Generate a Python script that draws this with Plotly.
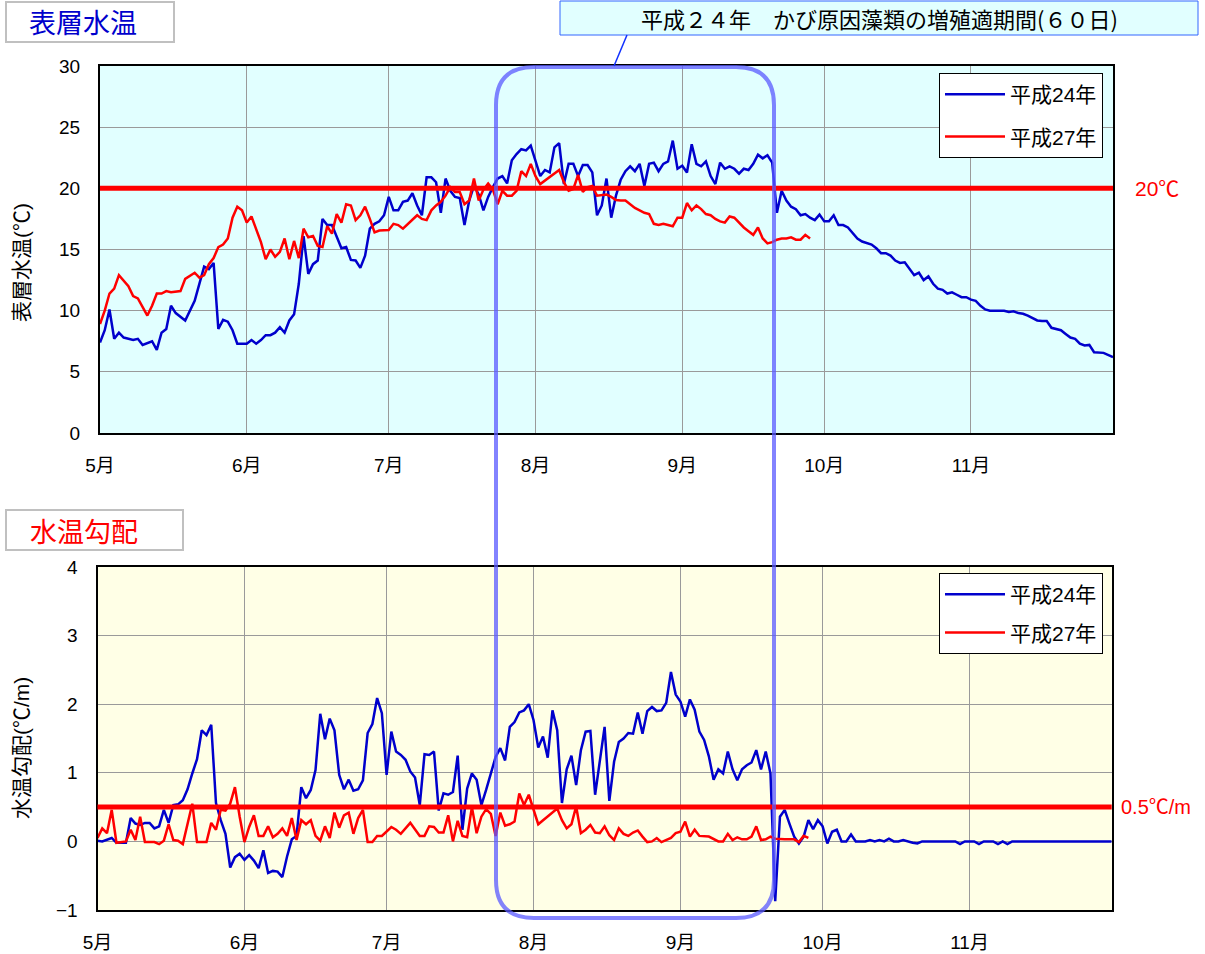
import plotly.graph_objects as go
from datetime import date, timedelta

# ---------------- data (days counted from 1 May) ----------------
month_ticks = ["2012-05-01", "2012-06-01", "2012-07-01", "2012-08-01",
               "2012-09-01", "2012-10-01", "2012-11-01"]
month_labels = ["5月", "6月", "7月", "8月", "9月", "10月", "11月"]

series_names = ["平成24年", "平成27年"]

# surface water temperature, H24
h24_temp_days = ([0, 1, 2, 3, 4, 5, 7, 8, 9, 11, 12, 13, 14, 15, 16, 18, 20, 21, 22, 23, 24,
                  25, 26, 27, 28, 29, 31, 32, 33, 34, 35, 36, 37, 38, 39, 40, 41, 42, 43, 44,
                  45, 46, 47, 48, 49, 51, 52, 53, 54, 55, 56, 57, 58, 59, 60, 61, 62, 63, 64]
                 + list(range(65, 213)) + [214])
h24_temp = [7.4, 8.4, 10.1, 7.7, 8.2, 7.8, 7.6, 7.7, 7.2, 7.5, 6.8, 8.2, 8.5, 10.4, 9.8, 9.2, 10.8,
            12.3, 13.6, 13.4, 13.9, 8.5, 9.25, 9.1, 8.4, 7.3, 7.3, 7.6, 7.3, 7.6, 8.0, 8.0, 8.2,
            8.65, 8.2, 9.2, 9.7, 12.2, 16.1, 13.0, 13.8, 14.1, 17.5, 17.0, 17.0, 15.1, 15.2,
            14.15, 14.1, 13.5, 14.5, 16.7, 17.1, 17.3, 17.8, 19.3, 18.2, 18.2, 18.9,
            # 65 ..
            19.0, 19.6, 18.6, 17.8, 20.9, 20.9, 20.5, 18.0, 20.8, 19.8, 19.3, 19.2, 17.0, 19.0,
            20.2, 19.5, 18.2, 19.3, 20.1, 20.8, 21.0, 20.4, 22.3, 22.8, 23.2, 23.1, 23.5, 22.3,
            21.0, 21.5, 21.3, 23.35, 23.7, 20.35, 22.0, 22.0, 21.0, 21.9, 21.9, 21.3, 17.8,
            18.6, 20.8, 17.6, 19.4, 20.7, 21.4, 21.8, 21.4, 22.0, 20.2, 22.0, 22.1, 21.4, 22.0,
            22.2, 23.9, 21.6, 21.85, 21.3, 23.6, 22.0, 21.8, 22.2, 21.0, 20.35, 22.1, 21.6,
            21.8, 21.6, 21.2, 21.6, 21.5, 22.0, 22.75, 22.45, 22.7, 22.1, 18.0, 19.8, 19.0,
            18.5, 18.3, 17.8, 17.9, 17.6, 17.4, 17.85, 17.3, 17.3, 17.8, 17.0, 17.0, 16.8,
            16.35, 15.9, 15.65, 15.5, 15.4, 15.1, 14.7, 14.7, 14.5, 14.1, 13.9, 13.95, 13.4,
            12.9, 13.1, 12.5, 12.8, 12.2, 11.8, 11.7, 11.4, 11.5, 11.3, 11.1, 11.1, 10.9,
            10.8, 10.4, 10.1, 10.0, 10.0, 10.0, 10.0, 9.9, 9.95, 9.8, 9.75, 9.6, 9.4, 9.2,
            9.15, 9.15, 8.6, 8.5, 8.4, 8.1, 7.8, 7.7, 7.3, 7.15, 7.2, 6.6, 6.6, 6.55,
            6.2]

# surface water temperature, H27
h27_temp_days = ([0, 1, 2, 3, 4, 6, 7, 8, 10, 11, 12, 13, 14, 15, 17, 18]
                 + list(range(20, 60)) + [61, 62, 63, 64] + list(range(66, 94))
                 + list(range(97, 151)))
h27_temp = [8.9, 10.0, 11.4, 11.8, 12.9, 12.0, 11.2, 11.0, 9.6, 10.4, 11.4, 11.4, 11.6, 11.5,
            11.6, 12.6,
            # 20 ..
            13.1, 12.7, 12.9, 13.8, 14.3, 15.2, 15.4, 15.9, 17.6, 18.5, 18.2, 17.2, 17.7, 16.7,
            15.6, 14.2, 15.0, 14.4, 14.8, 15.9, 14.2, 15.7, 14.3, 16.7, 16.0, 16.1, 15.3, 15.2,
            16.9, 16.3, 17.9, 17.2, 18.7, 18.6, 17.4, 17.8, 18.5, 17.5, 16.4, 16.55,
            16.6, 17.1, 17.0, 16.7,
            # 66 ..
            17.4, 17.8, 17.5, 17.4, 18.2, 18.6, 18.9, 19.4, 20.1, 19.7, 19.7, 18.7, 19.0, 20.8,
            19.0, 19.9, 20.4, 19.9, 18.7, 19.8, 19.4, 19.4, 19.8, 21.4, 21.0, 22.0, 21.0, 20.35,
            # 97 ..
            21.5, 20.5, 19.8, 19.95, 21.1, 19.7, 20.1, 20.2, 19.4, 19.45, 19.5, 19.3, 19.05,
            19.0, 19.0, 18.7, 18.4, 18.2, 18.0, 17.9, 17.1, 17.0, 17.1, 17.0, 16.9, 17.6, 17.6,
            18.8, 18.2, 18.6, 18.3, 17.9, 17.8, 17.5, 17.3, 17.2, 17.7, 17.6, 17.2, 16.8, 16.5,
            16.2, 16.8, 15.9, 15.5, 15.6, 15.8, 15.9, 15.9, 16.0, 15.8, 15.8, 16.2, 15.9]

# water temperature gradient, H24
h24_grad_days = ([0, 1, 3, 4] + list(range(6, 161)) + list(range(162, 171))
                 + [172, 173, 174, 181, 182, 183, 185, 186, 187, 189, 190, 191, 192, 193, 214])
h24_grad = [0.01, 0.0, 0.05, -0.02,
            # 6 ..
            -0.02, 0.34, 0.26, 0.24, 0.27, 0.27, 0.19, 0.22, 0.46, 0.27, 0.53, 0.54, 0.6, 0.76,
            0.99, 1.2, 1.62, 1.55, 1.7, 0.56, 0.31, 0.11, -0.38, -0.23, -0.18, -0.27, -0.2,
            -0.28, -0.39, -0.13, -0.46, -0.43, -0.44, -0.52, -0.22, 0.03, 0.08, 0.79, 0.63,
            0.75, 1.04, 1.86, 1.49, 1.79, 1.62, 0.97, 0.76, 0.9, 0.74, 0.76, 0.89, 1.58, 1.71,
            2.09, 1.87, 0.97, 1.6, 1.31, 1.26, 1.19, 1.02, 0.93, 0.53, 1.27, 1.26, 1.31, 0.45,
            0.7, 0.68, 0.72, 1.25, 0.17, 0.77, 0.99, 0.9, 0.53, 0.75, 0.99, 1.23, 1.36, 1.18,
            1.67, 1.74, 1.88, 1.91, 2.0, 1.77, 1.37, 1.53, 1.22, 1.91, 1.62, 0.56, 1.05, 1.25,
            0.82, 1.33, 1.6, 1.61, 0.68, 1.16, 1.67, 0.59, 1.16, 1.45, 1.5, 1.58, 1.57, 1.88,
            1.57, 1.9, 1.96, 1.9, 1.91, 2.02, 2.47, 2.14, 2.04, 1.82, 2.07, 1.92, 1.6, 1.48,
            1.24, 0.9, 1.05, 0.99, 1.31, 1.05, 0.89, 1.05, 1.11, 1.15, 1.33, 1.05, 1.31, 0.99,
            -0.87, 0.36, 0.46, 0.26, 0.07, -0.03, 0.07, 0.31, 0.18, 0.31, 0.22, -0.03, 0.14,
            0.17, 0.0, 0.0, 0.1, 0.0,
            # 162 ..
            0.0, 0.02, 0.0, 0.02, 0.0, 0.04, 0.0, 0.0, 0.02,
            -0.02, -0.03, 0.0, 0.0, -0.04, 0.0, 0.0, -0.04, 0.0, 0.0, -0.04, 0.0, -0.04, 0.0,
            0.0]

# water temperature gradient, H27
h27_grad_days = ([0, 1, 2, 3, 4] + list(range(6, 11)) + [12, 13, 14, 15, 16, 17, 18, 20, 21]
                 + list(range(23, 65)) + [66] + list(range(68, 94)) + list(range(97, 128))
                 + [129] + list(range(131, 144)) + [145, 147, 148, 149, 150])
h27_grad = [0.05, 0.19, 0.12, 0.46, -0.02,
            0.0, 0.17, 0.02, 0.36, -0.01,
            -0.01, -0.04, 0.01, 0.25, 0.02, 0.01, -0.04, 0.55, -0.01,
            # 23 ..
            -0.01, 0.27, 0.17, 0.46, 0.45, 0.55, 0.79, 0.36, -0.01, 0.21, 0.38, 0.08, 0.08,
            0.22, 0.06, 0.11, 0.19, 0.08, 0.34, 0.02, 0.31, 0.25, 0.31, 0.08, 0.01, 0.22, 0.05,
            0.42, 0.2, 0.38, 0.42, 0.11, 0.34, 0.46, -0.01, -0.01, 0.08, 0.08, 0.15, 0.21,
            0.17, 0.11,
            0.27,
            # 68 ..
            0.08, 0.08, 0.22, 0.21, 0.13, 0.13, 0.38, 0.0, 0.3, 0.08, 0.06, 0.5, 0.12, 0.36,
            0.47, 0.4, 0.08, 0.42, 0.23, 0.25, 0.29, 0.7, 0.53, 0.68, 0.46, 0.25,
            # 97 ..
            0.48, 0.31, 0.19, 0.25, 0.51, 0.12, 0.17, 0.24, 0.13, 0.12, 0.22, 0.09, 0.02, 0.19,
            0.11, 0.08, 0.13, 0.16, 0.07, -0.01, 0.0, 0.05, -0.01, 0.02, 0.05, 0.12, 0.14,
            0.29, 0.07, 0.17, 0.08,
            0.07,
            # 131 ..
            0.0, 0.0, 0.11, 0.02, 0.06, 0.03, 0.03, 0.07, 0.22, 0.02, 0.03, 0.07, 0.04,
            0.03, 0.03, -0.01, 0.08, 0.05]

temp_threshold = 20
grad_threshold = 0.5

# ---------------- figure ----------------
W, H = 1205, 954
BASE = date(2012, 5, 1)


def to_dates(days):
    return [BASE + timedelta(days=d) for d in days]


def px(x):
    return x / W


def py(y):
    return 1 - y / H


BLUE = "#0000CC"
RED = "#FF0000"
FONT = "Liberation Sans, Arial, Noto Sans CJK JP, sans-serif"

fig = go.Figure()
fig.add_trace(go.Scatter(x=to_dates(h24_temp_days), y=h24_temp, mode="lines",
                         name=series_names[0], line=dict(color=BLUE, width=2.5),
                         xaxis="x", yaxis="y", legend="legend", legendgroup="a"))
fig.add_trace(go.Scatter(x=to_dates(h27_temp_days), y=h27_temp, mode="lines",
                         name=series_names[1], line=dict(color=RED, width=2.5),
                         xaxis="x", yaxis="y", legend="legend", legendgroup="b"))
fig.add_trace(go.Scatter(x=to_dates(h24_grad_days), y=h24_grad, mode="lines",
                         name=series_names[0], line=dict(color=BLUE, width=2.5),
                         xaxis="x2", yaxis="y2", legend="legend2", legendgroup="c"))
fig.add_trace(go.Scatter(x=to_dates(h27_grad_days), y=h27_grad, mode="lines",
                         name=series_names[1], line=dict(color=RED, width=2.5),
                         xaxis="x2", yaxis="y2", legend="legend2", legendgroup="d"))

xcommon = dict(type="date", range=["2012-05-01", "2012-12-01"], tickvals=month_ticks,
               ticktext=month_labels, showgrid=True, gridcolor="#9A9A9A", gridwidth=1,
               showline=True, linecolor="black", linewidth=2, mirror=True, ticks="",
               ticklabelstandoff=14, tickfont=dict(size=19, color="black", family=FONT),
               zeroline=False, fixedrange=True, automargin=False)
ycommon = dict(showgrid=True, gridcolor="#9A9A9A", gridwidth=1, showline=True,
               linecolor="black", linewidth=2, mirror=True, ticks="", ticklabelstandoff=14,
               tickfont=dict(size=19, color="black", family=FONT), zeroline=False,
               fixedrange=True, automargin=False)

top_dom_y = [py(433), py(66)]
bot_dom_y = [py(910), py(567)]

fig.update_layout(
    width=W, height=H,
    margin=dict(l=0, r=0, t=0, b=0, autoexpand=False),
    paper_bgcolor="white", plot_bgcolor="rgba(0,0,0,0)",
    font=dict(family=FONT, color="black"),
    xaxis=dict(domain=[px(100), px(1113)], anchor="y", **xcommon),
    yaxis=dict(domain=top_dom_y, anchor="x", range=[0, 30], dtick=5, tick0=0, **ycommon),
    xaxis2=dict(domain=[px(97.5), px(1111.7)], anchor="y2", **xcommon),
    yaxis2=dict(domain=bot_dom_y, anchor="x2", range=[-1, 4], dtick=1, tick0=0, **ycommon),
    legend=dict(x=px(1103), y=py(73), xanchor="right", yanchor="top", bgcolor="white",
                bordercolor="black", borderwidth=1, font=dict(size=21, family=FONT),
                tracegroupgap=12, traceorder="grouped", itemwidth=60,
                entrywidth=165),
    legend2=dict(x=px(1103), y=py(573), xanchor="right", yanchor="top", bgcolor="white",
                 bordercolor="black", borderwidth=1, font=dict(size=21, family=FONT),
                 tracegroupgap=8, traceorder="grouped", itemwidth=60,
                 entrywidth=155),
    showlegend=True,
)

shapes = []
# plot area backgrounds
shapes.append(dict(type="rect", xref="x domain", yref="y domain", x0=0, x1=1, y0=0, y1=1,
                   fillcolor="#E1FFFF", line=dict(width=0), layer="below"))
shapes.append(dict(type="rect", xref="x2 domain", yref="y2 domain", x0=0, x1=1, y0=0, y1=1,
                   fillcolor="#FFFFE6", line=dict(width=0), layer="below"))
# threshold lines
shapes.append(dict(type="line", xref="x domain", yref="y", x0=0, x1=1,
                   y0=temp_threshold, y1=temp_threshold, line=dict(color=RED, width=5)))
shapes.append(dict(type="line", xref="x2 domain", yref="y2", x0=0, x1=1,
                   y0=grad_threshold, y1=grad_threshold, line=dict(color=RED, width=5)))
# rounded highlight box (growth period)
x0, x1, y0, y1, r = 496, 774, 67, 918, 38
path = (f"M {px(x0 + r)} {py(y0)} L {px(x1 - r)} {py(y0)} "
        f"Q {px(x1)} {py(y0)} {px(x1)} {py(y0 + r)} L {px(x1)} {py(y1 - r)} "
        f"Q {px(x1)} {py(y1)} {px(x1 - r)} {py(y1)} L {px(x0 + r)} {py(y1)} "
        f"Q {px(x0)} {py(y1)} {px(x0)} {py(y1 - r)} L {px(x0)} {py(y0 + r)} "
        f"Q {px(x0)} {py(y0)} {px(x0 + r)} {py(y0)} Z")
shapes.append(dict(type="path", xref="paper", yref="paper", path=path,
                   line=dict(color="rgba(90,90,255,0.75)", width=4)))
# callout box + connector
shapes.append(dict(type="rect", xref="paper", yref="paper", x0=px(560), x1=px(1198),
                   y0=py(35), y1=py(1), fillcolor="#E1FFFF", line=dict(color="#3366FF", width=1)))
shapes.append(dict(type="line", xref="paper", yref="paper", x0=px(627), y0=py(35),
                   x1=px(614), y1=py(66), line=dict(color="#1030FF", width=1.5)))
# title boxes
shapes.append(dict(type="rect", xref="paper", yref="paper", x0=px(6), x1=px(174),
                   y0=py(42), y1=py(2), fillcolor="white", line=dict(color="#C0C0C0", width=2)))
shapes.append(dict(type="rect", xref="paper", yref="paper", x0=px(6), x1=px(183),
                   y0=py(550), y1=py(510), fillcolor="white", line=dict(color="#C0C0C0", width=2)))
fig.update_layout(shapes=shapes)

ann = [
    dict(text="平成２４年　かび原因藻類の増殖適期間(６０日)", x=px(879), y=py(18),
         font=dict(size=22, color="black", family="Noto Sans CJK JP")),
    dict(text="表層水温", x=px(83), y=py(22), font=dict(size=27, color=BLUE,
                                                     family="Noto Sans CJK JP")),
    dict(text="水温勾配", x=px(84), y=py(530), font=dict(size=27, color=RED,
                                                      family="Noto Sans CJK JP")),
    dict(text="20℃", x=px(1157), y=py(188), font=dict(size=21, color=RED, family=FONT)),
    dict(text="0.5℃/m", x=px(1156), y=py(807), font=dict(size=20, color=RED, family=FONT)),
    dict(text="表層水温(℃)", x=px(21), y=py(263), textangle=-90,
         font=dict(size=21, color="black", family=FONT)),
    dict(text="水温勾配(℃/m)", x=px(21), y=py(748), textangle=-90,
         font=dict(size=21, color="black", family=FONT)),
]
for a in ann:
    a.update(xref="paper", yref="paper", showarrow=False, xanchor="center", yanchor="middle")
fig.update_layout(annotations=ann)

# the page must show the figure flush with the window's top-left corner
fig.write_html("out.html", config={"displayModeBar": False},
               post_script="document.body.style.margin='0';document.body.style.overflow='hidden';")
